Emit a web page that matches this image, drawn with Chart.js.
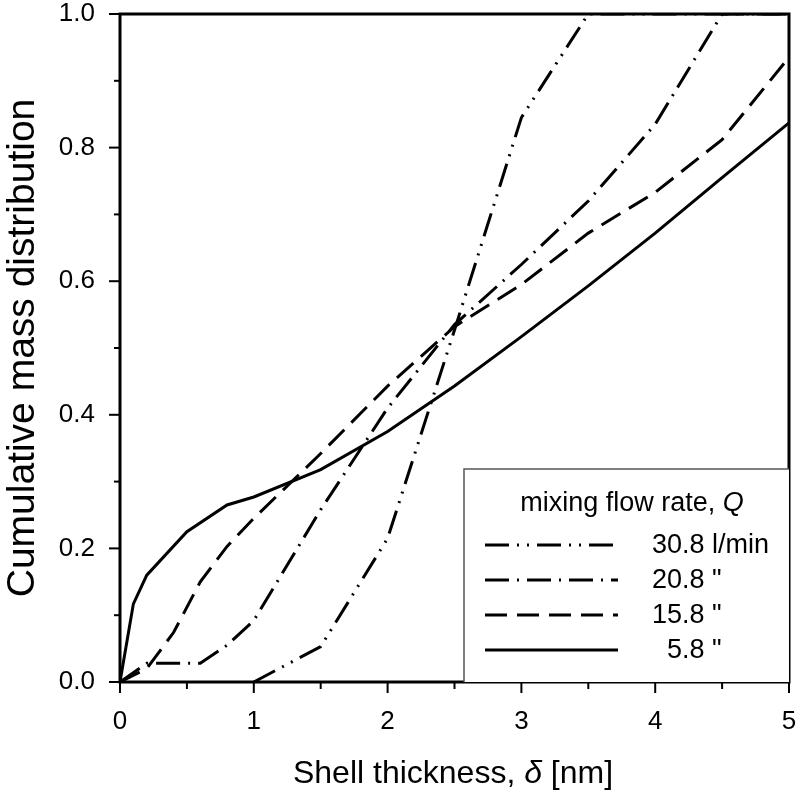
<!DOCTYPE html>
<html>
<head>
<meta charset="utf-8">
<script src="https://cdn.jsdelivr.net/npm/chart.js@4.4.0/dist/chart.umd.min.js"></script>
<style>
  body { margin: 0; background: #fff; }
  canvas { display: block; }
</style>
</head>
<body>
<canvas id="chart" width="800" height="802"></canvas>
<script>
// ---- values ----
const rates = ['30.8', '20.8', '15.8', '5.8'];
const units = ['l/min', '"', '"', '"'];

const x308 = [1.0, 1.5, 2.0, 2.5, 3.0, 3.5, 4.0, 5.0];
const y308 = [0, 0.053, 0.215, 0.527, 0.845, 1.0, 1.0, 1.0];

const x208 = [0, 0.2, 0.6, 0.8, 1.0, 1.5, 2.0, 2.5, 3.0, 3.5, 4.0, 4.5, 5.0];
const y208 = [0, 0.028, 0.028, 0.055, 0.092, 0.258, 0.41, 0.535, 0.625, 0.72, 0.835, 1.0, 1.0];

const x158 = [0, 0.2, 0.4, 0.6, 0.8, 1.0, 1.5, 2.0, 2.5, 3.0, 3.5, 4.0, 4.5, 5.0];
const y158 = [0, 0.02, 0.074, 0.15, 0.203, 0.245, 0.342, 0.443, 0.532, 0.595, 0.672, 0.733, 0.812, 0.935];

const x58 = [0, 0.1, 0.2, 0.5, 0.8, 1.0, 1.5, 2.0, 2.5, 3.0, 3.5, 4.0, 4.5, 5.0];
const y58 = [0, 0.117, 0.16, 0.225, 0.265, 0.277, 0.318, 0.375, 0.443, 0.517, 0.593, 0.672, 0.755, 0.837];

const xTicks = [0, 1, 2, 3, 4, 5];
const yTicks = [0, 0.2, 0.4, 0.6, 0.8, 1.0];

// line styles, same order as rates
const dashes = [[24, 8, 2, 8, 2, 8], [24, 8, 2, 8], [22, 10], []];

const FONT = "'Liberation Sans', Arial, Helvetica, sans-serif";

function pts(xs, ys) { return xs.map((x, i) => ({ x: x, y: ys[i] })); }

const series = [pts(x308, y308), pts(x208, y208), pts(x158, y158), pts(x58, y58)];

// no auto padding for edge labels, keep the plot box fixed
function fixBox(prop, size) {
  return s => {
    s[prop] = size;
    s.paddingTop = 0; s.paddingBottom = 0; s.paddingLeft = 0; s.paddingRight = 0;
  };
}

// frame, minor/major ticks, x title and the boxed legend
const decor = {
  id: 'decor',
  afterDatasetsDraw(chart) {
    const ctx = chart.ctx;
    const a = chart.chartArea;
    const sx = chart.scales.x, sy = chart.scales.y;
    ctx.save();
    ctx.strokeStyle = '#000';
    ctx.lineCap = 'butt';

    // ticks
    ctx.lineWidth = 2;
    for (let i = 0; i <= 10; i++) {
      const px = sx.getPixelForValue(i / 2);
      ctx.beginPath();
      ctx.moveTo(px, a.bottom);
      ctx.lineTo(px, a.bottom + (i % 2 ? 7 : 11));
      ctx.stroke();
    }
    for (let i = 0; i <= 10; i++) {
      const py = sy.getPixelForValue(i / 10);
      ctx.beginPath();
      ctx.moveTo(a.left, py);
      ctx.lineTo(a.left - (i % 2 ? 6 : 11), py);
      ctx.stroke();
    }

    // frame
    ctx.lineWidth = 3;
    ctx.strokeRect(a.left, a.top, a.right - a.left, a.bottom - a.top);

    // x axis title with italic delta
    const parts = [['Shell thickness, ', 'normal'], ['δ', 'italic'], [' [nm]', 'normal']];
    ctx.fillStyle = '#000';
    ctx.textBaseline = 'alphabetic';
    ctx.textAlign = 'left';
    let tw = 0;
    parts.forEach(p => { ctx.font = p[1] + ' 32px ' + FONT; tw += ctx.measureText(p[0]).width; });
    let tx = 453 - tw / 2;
    parts.forEach(p => { ctx.font = p[1] + ' 32px ' + FONT; ctx.fillText(p[0], tx, 783); tx += ctx.measureText(p[0]).width; });

    // legend box
    const bx = a.left + 344, by = a.bottom - 213;
    ctx.fillStyle = '#fff';
    ctx.fillRect(bx, by, a.right - bx, a.bottom - by);
    ctx.strokeStyle = '#555';
    ctx.lineWidth = 1.5;
    ctx.beginPath();
    ctx.moveTo(bx, a.bottom);
    ctx.lineTo(bx, by);
    ctx.lineTo(a.right, by);
    ctx.stroke();

    ctx.fillStyle = '#000';
    const t1 = 'mixing flow rate, ', t2 = 'Q';
    ctx.font = '27px ' + FONT;
    const w1 = ctx.measureText(t1).width;
    ctx.font = 'italic 27px ' + FONT;
    const w2 = ctx.measureText(t2).width;
    const lx = 632 - (w1 + w2) / 2;
    ctx.font = '27px ' + FONT;
    ctx.fillText(t1, lx, by + 42);
    ctx.font = 'italic 27px ' + FONT;
    ctx.fillText(t2, lx + w1, by + 42);

    ctx.font = '27px ' + FONT;
    const numRight = bx + 188 + ctx.measureText(rates[0]).width;
    chart.data.datasets.forEach((ds, i) => {
      const ly = by + 76 + i * 35;
      ctx.strokeStyle = '#000';
      ctx.lineWidth = ds.borderWidth;
      ctx.setLineDash(ds.borderDash);
      ctx.beginPath();
      ctx.moveTo(bx + 21, ly);
      ctx.lineTo(bx + 154, ly);
      ctx.stroke();
      ctx.setLineDash([]);
      ctx.textBaseline = 'middle';
      const nw = ctx.measureText(rates[i]).width;
      ctx.fillText(rates[i] + ' ' + units[i], numRight - nw, ly + 1);
    });
    ctx.restore();
  }
};

new Chart(document.getElementById('chart'), {
  type: 'line',
  data: {
    datasets: series.map((d, i) => ({
      label: rates[i] + ' ' + units[i],
      data: d,
      borderColor: '#000',
      borderWidth: 3,
      borderDash: dashes[i],
      pointRadius: 0,
      tension: 0,
      fill: false
    }))
  },
  options: {
    responsive: false,
    animation: false,
    layout: { padding: { top: 14, right: 11, left: 0, bottom: 0 } },
    plugins: { legend: { display: false }, tooltip: { enabled: false } },
    scales: {
      x: {
        type: 'linear', min: 0, max: 5,
        afterFit: fixBox('height', 120),
        afterBuildTicks: s => { s.ticks = xTicks.map(v => ({ value: v })); },
        grid: { display: false, drawTicks: false },
        border: { display: false },
        ticks: { padding: 24, color: '#000', font: { family: FONT, size: 26 }, maxRotation: 0 }
      },
      y: {
        type: 'linear', min: 0, max: 1,
        afterFit: fixBox('width', 120),
        afterBuildTicks: s => { s.ticks = yTicks.map(v => ({ value: v })); },
        grid: { display: false, drawTicks: false },
        border: { display: false },
        ticks: { padding: 25, color: '#000', font: { family: FONT, size: 26 }, callback: v => v.toFixed(1) },
        title: { display: true, text: 'Cumulative mass distribution', color: '#000',
                 font: { family: FONT, size: 39 }, padding: { top: 0, bottom: 0 } }
      }
    }
  },
  plugins: [decor]
});
</script>
</body>
</html>
